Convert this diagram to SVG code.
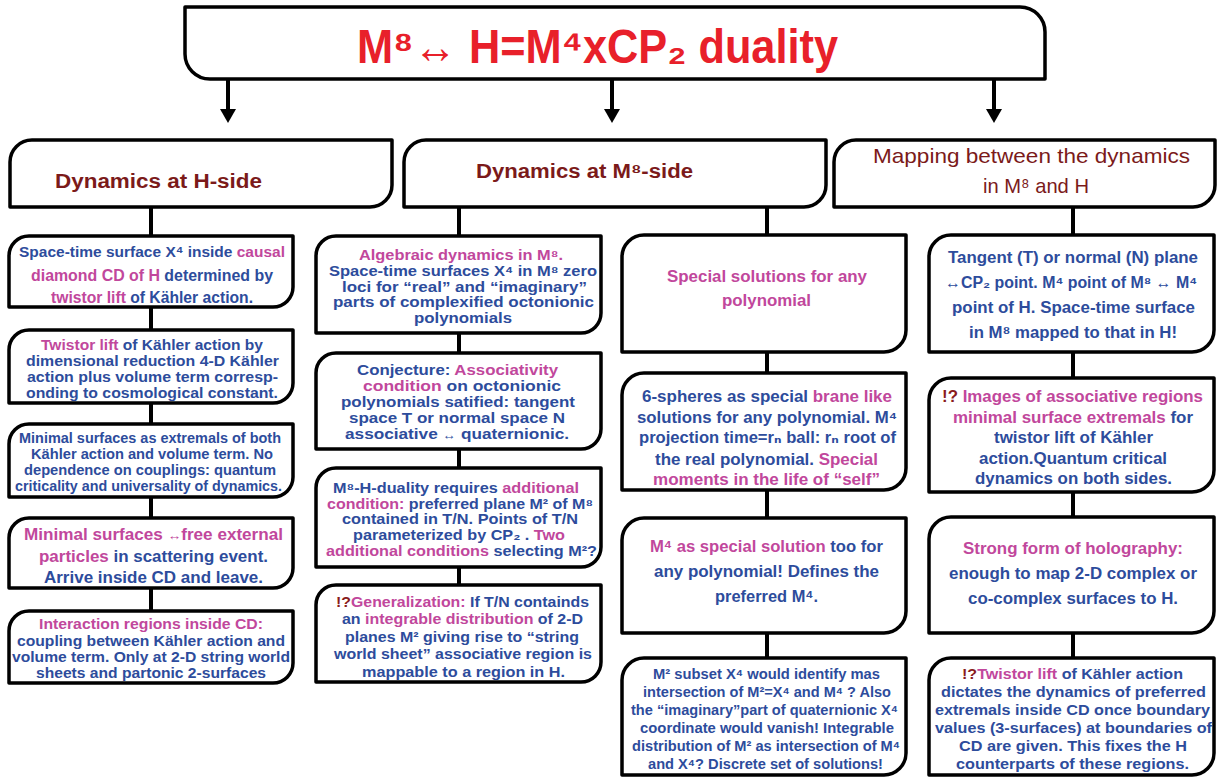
<svg xmlns="http://www.w3.org/2000/svg" width="1228" height="777" viewBox="0 0 1228 777">
<style>
.box{fill:#fff;stroke:#000;stroke-width:3.5;stroke-linejoin:round}
.con{stroke:#000;stroke-width:4;fill:none}
text{font-family:"Liberation Sans",Arial,"DejaVu Sans",sans-serif;font-weight:bold;text-anchor:middle}
.b{fill:#2d4c9c}
.m{fill:#c1479c}
.r{fill:#8a1c1c}
.hd{fill:#7b1a1a;font-size:20px}
.hn{font-weight:normal;font-size:21px}
.title{fill:#e8202a;font-size:48px}
.ar{font-weight:normal;font-size:80%}
.s15{font-size:15px}
.s155{font-size:15.5px}
.s16{font-size:16px}
.s165{font-size:16.5px}
.s17{font-size:17px}
</style>
<defs>
<marker id="ah" viewBox="0 -8 14 16" refX="0" refY="0" markerWidth="14" markerHeight="16" markerUnits="userSpaceOnUse" orient="auto">
<path d="M0,-8 L14,0 L0,8 Z" fill="#000"/>
</marker>
</defs>

<g id="connectors">
<line class="con" x1="228" y1="79" x2="228" y2="109" marker-end="url(#ah)"/>
<line class="con" x1="612" y1="79" x2="612" y2="109" marker-end="url(#ah)"/>
<line class="con" x1="994" y1="79" x2="994" y2="109" marker-end="url(#ah)"/>
<line class="con" x1="151" y1="207" x2="151" y2="236"/>
<line class="con" x1="151" y1="307" x2="151" y2="330"/>
<line class="con" x1="151" y1="403" x2="151" y2="424"/>
<line class="con" x1="151" y1="497" x2="151" y2="518"/>
<line class="con" x1="151" y1="588" x2="151" y2="611"/>
<line class="con" x1="459" y1="207" x2="459" y2="236"/>
<line class="con" x1="459" y1="333" x2="459" y2="353"/>
<line class="con" x1="459" y1="449" x2="459" y2="468"/>
<line class="con" x1="459" y1="567" x2="459" y2="585"/>
<line class="con" x1="767" y1="207" x2="767" y2="235"/>
<line class="con" x1="767" y1="352" x2="767" y2="373"/>
<line class="con" x1="767" y1="490" x2="767" y2="518"/>
<line class="con" x1="767" y1="633" x2="767" y2="658"/>
<line class="con" x1="1073" y1="207" x2="1073" y2="235"/>
<line class="con" x1="1073" y1="352" x2="1073" y2="378"/>
<line class="con" x1="1073" y1="492" x2="1073" y2="517"/>
<line class="con" x1="1073" y1="633" x2="1073" y2="658"/>
</g>

<g id="title">
<path class="box" d="M185,7 H1020 A25,25 0 0 1 1045,32 V79 H210 A25,25 0 0 1 185,54 Z"/>
<text class="title" x="597.5" y="63" textLength="481" lengthAdjust="spacingAndGlyphs">M⁸↔ H=M⁴xCP₂ duality</text>
</g>

<g id="h-side">
<path class="box" d="M10,162 A22,22 0 0 1 32,140 H392 V185 A22,22 0 0 1 370,207 H10 Z"/>
<text class="hd" x="158.5" y="188" textLength="207" lengthAdjust="spacingAndGlyphs">Dynamics at H-side</text>
</g>
<g id="m8-side">
<path class="box" d="M404,162 A22,22 0 0 1 426,140 H826 V185 A22,22 0 0 1 804,207 H404 Z"/>
<text class="hd" x="584.5" y="178" textLength="217" lengthAdjust="spacingAndGlyphs">Dynamics at M⁸-side</text>
</g>
<g id="mapping">
<path class="box" d="M834,162 A22,22 0 0 1 856,140 H1215 V185 A22,22 0 0 1 1193,207 H834 Z"/>
<text class="hd hn" x="1031.5" y="163" textLength="317" lengthAdjust="spacingAndGlyphs">Mapping between the dynamics</text>
<text class="hd hn" x="1036" y="193" textLength="106" lengthAdjust="spacingAndGlyphs">in M⁸ and H</text>
</g>

<!-- Column 1 -->
<g id="c1b1">
<path class="box" d="M9,256 A20,20 0 0 1 29,236 H293 V287 A20,20 0 0 1 273,307 H9 Z"/>
<text class="s155" x="152" y="257" textLength="266" lengthAdjust="spacingAndGlyphs"><tspan class="b">Space-time surface X⁴ inside </tspan><tspan class="m">causal</tspan></text>
<text class="s16" x="152" y="281" textLength="242" lengthAdjust="spacingAndGlyphs"><tspan class="m">diamond CD of H</tspan><tspan class="b"> determined by</tspan></text>
<text class="s16" x="152" y="303" textLength="202" lengthAdjust="spacingAndGlyphs"><tspan class="m">twistor lift</tspan><tspan class="b"> of Kähler action.</tspan></text>
</g>
<g id="c1b2">
<path class="box" d="M9,350 A20,20 0 0 1 29,330 H293 V383 A20,20 0 0 1 273,403 H9 Z"/>
<text class="s155" x="152" y="350" textLength="222" lengthAdjust="spacingAndGlyphs"><tspan class="m">Twistor lift</tspan><tspan class="b"> of Kähler action by</tspan></text>
<text class="s155 b" x="152.5" y="366" textLength="253" lengthAdjust="spacingAndGlyphs">dimensional reduction 4-D Kähler</text>
<text class="s155 b" x="152.5" y="382" textLength="251" lengthAdjust="spacingAndGlyphs">action plus volume term corresp-</text>
<text class="s155 b" x="152" y="398" textLength="252" lengthAdjust="spacingAndGlyphs">onding to cosmological constant.</text>
</g>
<g id="c1b3">
<path class="box" d="M9,444 A20,20 0 0 1 29,424 H293 V477 A20,20 0 0 1 273,497 H9 Z"/>
<text class="s155 b" x="150" y="443" textLength="262" lengthAdjust="spacingAndGlyphs">Minimal surfaces as extremals of both</text>
<text class="s155 b" x="152" y="459" textLength="242" lengthAdjust="spacingAndGlyphs">Kähler action and volume term. No</text>
<text class="s155 b" x="150" y="475" textLength="252" lengthAdjust="spacingAndGlyphs">dependence on couplings: quantum</text>
<text class="s155 b" x="148.5" y="491" textLength="267" lengthAdjust="spacingAndGlyphs">criticality and universality of dynamics.</text>
</g>
<g id="c1b4">
<path class="box" d="M9,538 A20,20 0 0 1 29,518 H293 V568 A20,20 0 0 1 273,588 H9 Z"/>
<text class="s165 m" x="153.5" y="540" textLength="259" lengthAdjust="spacingAndGlyphs">Minimal surfaces <tspan class="ar">↔</tspan>free external</text>
<text class="s165" x="153.5" y="562" textLength="229" lengthAdjust="spacingAndGlyphs"><tspan class="m">particles</tspan><tspan class="b"> in scattering event.</tspan></text>
<text class="s165 b" x="153.5" y="583" textLength="219" lengthAdjust="spacingAndGlyphs">Arrive inside CD and leave.</text>
</g>
<g id="c1b5">
<path class="box" d="M9,631 A20,20 0 0 1 29,611 H293 V663 A20,20 0 0 1 273,683 H9 Z"/>
<text class="s155 m" x="151" y="629" textLength="224" lengthAdjust="spacingAndGlyphs">Interaction regions inside CD:</text>
<text class="s155 b" x="151" y="646" textLength="268" lengthAdjust="spacingAndGlyphs">coupling between Kähler action and</text>
<text class="s155 b" x="151" y="662" textLength="278" lengthAdjust="spacingAndGlyphs">volume term. Only at 2-D string world</text>
<text class="s155 b" x="151" y="678" textLength="230" lengthAdjust="spacingAndGlyphs">sheets and partonic 2-surfaces</text>
</g>

<!-- Column 2 -->
<g id="c2b1">
<path class="box" d="M316,256 A20,20 0 0 1 336,236 H601 V313 A20,20 0 0 1 581,333 H316 Z"/>
<text class="s15 m" x="461" y="260" textLength="204" lengthAdjust="spacingAndGlyphs">Algebraic dynamics in M⁸.</text>
<text class="s15 b" x="463" y="276" textLength="268" lengthAdjust="spacingAndGlyphs">Space-time surfaces X⁴ in M⁸ zero</text>
<text class="s15 b" x="464.5" y="292" textLength="245" lengthAdjust="spacingAndGlyphs">loci for “real” and “imaginary”</text>
<text class="s15 b" x="463.5" y="307" textLength="261" lengthAdjust="spacingAndGlyphs">parts of complexified octonionic</text>
<text class="s15 b" x="463" y="323" textLength="98" lengthAdjust="spacingAndGlyphs">polynomials</text>
</g>
<g id="c2b2">
<path class="box" d="M316,373 A20,20 0 0 1 336,353 H601 V429 A20,20 0 0 1 581,449 H316 Z"/>
<text class="s15" x="457.5" y="375" textLength="201" lengthAdjust="spacingAndGlyphs"><tspan class="b">Conjecture: </tspan><tspan class="m">Associativity</tspan></text>
<text class="s15" x="462" y="391" textLength="198" lengthAdjust="spacingAndGlyphs"><tspan class="m">condition</tspan><tspan class="b"> on octonionic</tspan></text>
<text class="s15 b" x="458" y="407" textLength="234" lengthAdjust="spacingAndGlyphs">polynomials satified: tangent</text>
<text class="s15 b" x="457" y="423" textLength="216" lengthAdjust="spacingAndGlyphs">space T or normal space N</text>
<text class="s15 b" x="457" y="439" textLength="224" lengthAdjust="spacingAndGlyphs">associative <tspan class="ar">↔</tspan> quaternionic.</text>
</g>
<g id="c2b3">
<path class="box" d="M316,488 A20,20 0 0 1 336,468 H601 V547 A20,20 0 0 1 581,567 H316 Z"/>
<text class="s15" x="456" y="493" textLength="246" lengthAdjust="spacingAndGlyphs"><tspan class="b">M⁸-H-duality requires </tspan><tspan class="m">additional</tspan></text>
<text class="s15" x="460" y="509" textLength="266" lengthAdjust="spacingAndGlyphs"><tspan class="m">condition:</tspan><tspan class="b"> preferred plane M² of M⁸</tspan></text>
<text class="s15 b" x="460" y="524" textLength="236" lengthAdjust="spacingAndGlyphs">contained in T/N. Points of T/N</text>
<text class="s15" x="459" y="540" textLength="212" lengthAdjust="spacingAndGlyphs"><tspan class="b">parameterized by CP₂ . </tspan><tspan class="m">Two</tspan></text>
<text class="s15" x="461.5" y="556" textLength="271" lengthAdjust="spacingAndGlyphs"><tspan class="m">additional conditions</tspan><tspan class="b"> selecting M²?</tspan></text>
</g>
<g id="c2b4">
<path class="box" d="M316,605 A20,20 0 0 1 336,585 H601 V662 A20,20 0 0 1 581,682 H316 Z"/>
<text class="s15" x="462.5" y="607" textLength="253" lengthAdjust="spacingAndGlyphs"><tspan class="r">!?</tspan><tspan class="m">Generalization:</tspan><tspan class="b"> If T/N containds</tspan></text>
<text class="s15" x="462.5" y="624" textLength="241" lengthAdjust="spacingAndGlyphs"><tspan class="b">an </tspan><tspan class="m">integrable distribution</tspan><tspan class="b"> of 2-D</tspan></text>
<text class="s15 b" x="462" y="642" textLength="234" lengthAdjust="spacingAndGlyphs">planes M² giving rise to “string</text>
<text class="s15 b" x="463" y="659" textLength="258" lengthAdjust="spacingAndGlyphs">world sheet” associative region is</text>
<text class="s15 b" x="463.5" y="677" textLength="203" lengthAdjust="spacingAndGlyphs">mappable to a region in H.</text>
</g>

<!-- Column 3 -->
<g id="c3b1">
<path class="box" d="M622,257 A22,22 0 0 1 644,235 H906 V330 A22,22 0 0 1 884,352 H622 Z"/>
<text class="s165 m" x="767" y="282" textLength="200" lengthAdjust="spacingAndGlyphs">Special solutions for any</text>
<text class="s165 m" x="766.5" y="306" textLength="89" lengthAdjust="spacingAndGlyphs">polynomial</text>
</g>
<g id="c3b2">
<path class="box" d="M622,395 A22,22 0 0 1 644,373 H906 V468 A22,22 0 0 1 884,490 H622 Z"/>
<text class="s16" x="767" y="402" textLength="250" lengthAdjust="spacingAndGlyphs"><tspan class="b">6-spheres as special </tspan><tspan class="m">brane like</tspan></text>
<text class="s16 b" x="767" y="423" textLength="260" lengthAdjust="spacingAndGlyphs">solutions for any polynomial. M⁴</text>
<text class="s16 b" x="767.5" y="443" textLength="257" lengthAdjust="spacingAndGlyphs">projection time=rₙ ball: rₙ root of</text>
<text class="s16" x="766.5" y="465" textLength="223" lengthAdjust="spacingAndGlyphs"><tspan class="b">the real polynomial. </tspan><tspan class="m">Special</tspan></text>
<text class="s16 m" x="766.5" y="485" textLength="227" lengthAdjust="spacingAndGlyphs">moments in the life of “self”</text>
</g>
<g id="c3b3">
<path class="box" d="M622,540 A22,22 0 0 1 644,518 H906 V611 A22,22 0 0 1 884,633 H622 Z"/>
<text class="s17" x="766.5" y="552" textLength="233" lengthAdjust="spacingAndGlyphs"><tspan class="m">M⁴ as special solution</tspan><tspan class="b"> too for</tspan></text>
<text class="s17 b" x="766.5" y="577" textLength="225" lengthAdjust="spacingAndGlyphs">any polynomial! Defines the</text>
<text class="s17 b" x="766.5" y="602" textLength="103" lengthAdjust="spacingAndGlyphs">preferred M⁴.</text>
</g>
<g id="c3b4">
<path class="box" d="M622,680 A22,22 0 0 1 644,658 H906 V753 A22,22 0 0 1 884,775 H622 Z"/>
<text class="s15 b" x="766.5" y="679" textLength="227" lengthAdjust="spacingAndGlyphs">M² subset X⁴ would identify mas</text>
<text class="s15 b" x="767" y="697" textLength="248" lengthAdjust="spacingAndGlyphs">intersection of M²=X⁴ and M⁴ ? Also</text>
<text class="s15 b" x="764.5" y="715" textLength="267" lengthAdjust="spacingAndGlyphs">the “imaginary”part of quaternionic X⁴</text>
<text class="s15 b" x="767" y="733" textLength="254" lengthAdjust="spacingAndGlyphs">coordinate would vanish! Integrable</text>
<text class="s15 b" x="766" y="751" textLength="268" lengthAdjust="spacingAndGlyphs">distribution of M² as intersection of M⁴</text>
<text class="s15 b" x="765.5" y="769" textLength="235" lengthAdjust="spacingAndGlyphs">and X⁴? Discrete set of solutions!</text>
</g>

<!-- Column 4 -->
<g id="c4b1">
<path class="box" d="M929,257 A22,22 0 0 1 951,235 H1214 V330 A22,22 0 0 1 1192,352 H929 Z"/>
<text class="s17 b" x="1073" y="263" textLength="250" lengthAdjust="spacingAndGlyphs">Tangent (T) or normal (N) plane</text>
<text class="s16 b" x="1071" y="288" textLength="252" lengthAdjust="spacingAndGlyphs">↔CP₂ point. M⁴ point of M⁸ ↔ M⁴</text>
<text class="s17 b" x="1073.5" y="313" textLength="243" lengthAdjust="spacingAndGlyphs">point of H. Space-time surface</text>
<text class="s17 b" x="1073" y="338" textLength="208" lengthAdjust="spacingAndGlyphs">in M⁸ mapped to that in H!</text>
</g>
<g id="c4b2">
<path class="box" d="M929,400 A22,22 0 0 1 951,378 H1214 V470 A22,22 0 0 1 1192,492 H929 Z"/>
<text class="s165" x="1072.5" y="402" textLength="261" lengthAdjust="spacingAndGlyphs"><tspan class="r">!?</tspan><tspan class="m"> Images of associative regions</tspan></text>
<text class="s165" x="1073" y="423" textLength="240" lengthAdjust="spacingAndGlyphs"><tspan class="m">minimal surface extremals</tspan><tspan class="b"> for</tspan></text>
<text class="s165 b" x="1073.5" y="443" textLength="159" lengthAdjust="spacingAndGlyphs">twistor lift of Kähler</text>
<text class="s165 b" x="1073" y="464" textLength="188" lengthAdjust="spacingAndGlyphs">action.Quantum critical</text>
<text class="s165 b" x="1073.5" y="484" textLength="197" lengthAdjust="spacingAndGlyphs">dynamics on both sides.</text>
</g>
<g id="c4b3">
<path class="box" d="M929,539 A22,22 0 0 1 951,517 H1214 V611 A22,22 0 0 1 1192,633 H929 Z"/>
<text class="s17 m" x="1073" y="554" textLength="220" lengthAdjust="spacingAndGlyphs">Strong form of holography:</text>
<text class="s17 b" x="1073" y="579" textLength="248" lengthAdjust="spacingAndGlyphs">enough to map 2-D complex or</text>
<text class="s17 b" x="1073" y="604" textLength="210" lengthAdjust="spacingAndGlyphs">co-complex surfaces to H.</text>
</g>
<g id="c4b4">
<path class="box" d="M929,680 A22,22 0 0 1 951,658 H1214 V753 A22,22 0 0 1 1192,775 H929 Z"/>
<text class="s155" x="1072.5" y="679" textLength="221" lengthAdjust="spacingAndGlyphs"><tspan class="r">!?</tspan><tspan class="m">Twistor lift</tspan><tspan class="b"> of Kähler action</tspan></text>
<text class="s155 b" x="1073.5" y="697" textLength="265" lengthAdjust="spacingAndGlyphs">dictates the dynamics of preferred</text>
<text class="s155 b" x="1072.5" y="715" textLength="275" lengthAdjust="spacingAndGlyphs">extremals inside CD once boundary</text>
<text class="s155 b" x="1073.5" y="733" textLength="277" lengthAdjust="spacingAndGlyphs">values (3-surfaces) at boundaries of</text>
<text class="s155 b" x="1073" y="751" textLength="228" lengthAdjust="spacingAndGlyphs">CD are given. This fixes the H</text>
<text class="s155 b" x="1072.5" y="769" textLength="233" lengthAdjust="spacingAndGlyphs">counterparts of these regions.</text>
</g>
</svg>
